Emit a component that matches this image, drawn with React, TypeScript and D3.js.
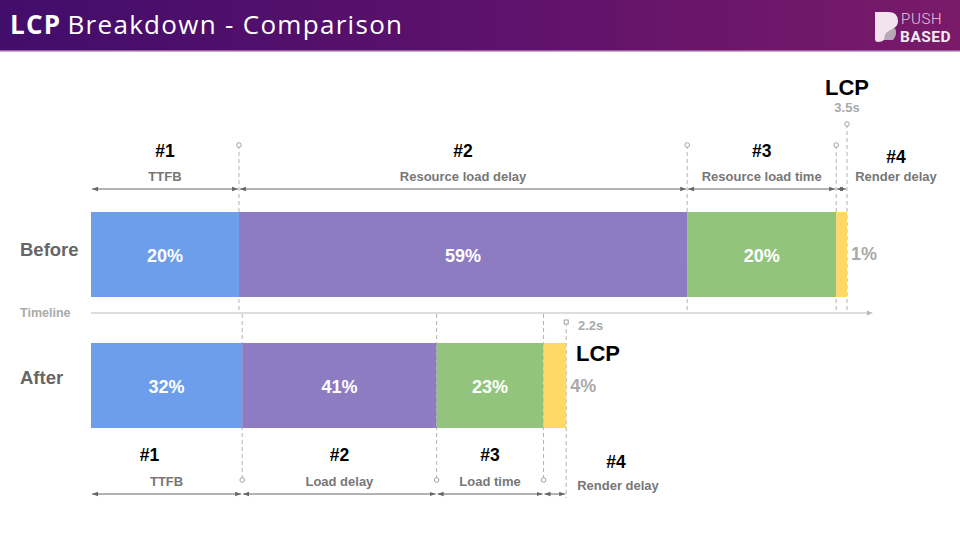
import * as d3 from 'd3'

// phase numbers and names
const phaseIds = ['#1', '#2', '#3', '#4']
const beforeNames = ['TTFB', 'Resource load delay', 'Resource load time', 'Render delay']
const afterNames = ['TTFB', 'Load delay', 'Load time', 'Render delay']

// durations in seconds
const beforeDurations = [0.685, 2.075, 0.69, 0.05]
const afterDurations = [0.7, 0.9, 0.495, 0.105]

// shares as printed on the bars
const beforeShares = ['20%', '59%', '20%', '1%']
const afterShares = ['32%', '41%', '23%', '4%']

const beforeTotal = '3.5s'
const afterTotal = '2.2s'
const timelineMax = 3.62

const colors = ['#6d9eeb', '#8e7cc3', '#93c47d', '#ffd966']

const W = 960
const H = 540
const FONT = '"Liberation Sans", Arial, sans-serif'

const x = d3.scaleLinear().domain([0, 3.5]).range([91, 847])

type Seg = { name: string; id: string; start: number; end: number; share: string; color: string }

const toSegs = (durs: number[], names: string[], shares: string[]): Seg[] => {
  const ends = d3.cumsum(durs)
  return durs.map((d, i) => ({
    name: names[i],
    id: phaseIds[i],
    start: ends[i] - d,
    end: ends[i],
    share: shares[i],
    color: colors[i],
  }))
}

const before = toSegs(beforeDurations, beforeNames, beforeShares)
const after = toSegs(afterDurations, afterNames, afterShares)

const Arrow = ({ x1, x2, y }: { x1: number; x2: number; y: number }) => (
  <line x1={x1 + 1} x2={x2 - 1} y1={y} y2={y} stroke="#666" strokeWidth={1}
    markerStart="url(#arrowL)" markerEnd="url(#arrowR)" />
)

const Marker = ({ cx, cy }: { cx: number; cy: number }) => (
  <circle cx={cx} cy={cy} r={2.3} fill="#fff" stroke="#999" strokeWidth={0.9} />
)

const mid = (s: Seg) => (x(s.start) + x(s.end)) / 2

export default function App() {
  const barH = 85
  const bY = 212
  const aY = 343
  const tlY = 313
  const nameSize = 13
  const idSize = 17.5
  const pctSize = 18

  return (
    <div style={{ position: 'fixed', left: 0, top: 0 }}>
      <svg width={W} height={H} style={{ display: 'block', fontFamily: FONT }}>
        <defs>
          <linearGradient id="hdr" x1="0" x2="1" y1="0" y2="0">
            <stop offset="0%" stopColor="#420d6b" />
            <stop offset="55%" stopColor="#5f126b" />
            <stop offset="100%" stopColor="#7a1a69" />
          </linearGradient>
          <marker id="arrowR" viewBox="0 0 6 6" refX="6" refY="3" markerWidth="6" markerHeight="6" orient="auto">
            <path d="M0,0.8 L6,3 L0,5.2 Z" fill="#666" />
          </marker>
          <marker id="arrowL" viewBox="0 0 6 6" refX="0" refY="3" markerWidth="6" markerHeight="6" orient="auto">
            <path d="M6,0.8 L0,3 L6,5.2 Z" fill="#666" />
          </marker>
        </defs>
        <rect width={W} height={H} fill="#fff" />

        {/* header */}
        <rect x={0} y={0} width={W} height={51} fill="url(#hdr)" />
        <rect x={0} y={50} width={W} height={1.5} fill="#9a5aa0" />
        <text x={10} y={34} fill="#fff" fontSize={26} letterSpacing={1.3} fontFamily='"Open Sans", "Noto Sans", sans-serif'>
          <tspan fontWeight={700}>LCP</tspan>
          <tspan dx={6} fontWeight={400}>Breakdown - Comparison</tspan>
        </text>
        {/* logo */}
        <g>
          <path d="M875,12 L888,12 Q898,12 898,21 Q898,26 894,28 L884,40 Q882,42 878,42 Q875,42 875,39 Z" fill="#f1e4ee" />
          <path d="M884,40 Q884,31 895,28 Q898,34 893,40 Z" fill="#b9a6b6" />
          <text x={901} y={24} fill="#e6c9df" fontSize={15} fontFamily='Roboto, sans-serif' fontWeight={300} letterSpacing={0.7}>PUSH</text>
          <text x={900} y={42} fill="#f4eaf2" fontSize={15.5} fontFamily='Roboto, sans-serif' fontWeight={700} letterSpacing={0.5}>BASED</text>
        </g>

        {/* row labels */}
        <text x={20} y={256} fontSize={18.5} fontWeight={700} fill="#666">Before</text>
        <text x={20} y={384} fontSize={18.5} fontWeight={700} fill="#666">After</text>
        <text x={20} y={317} fontSize={12.5} fontWeight={700} fill="#aaa">Timeline</text>

        {/* timeline */}
        <line x1={x(0)} x2={x(timelineMax) - 3} y1={tlY} y2={tlY} stroke="#bbb" strokeWidth={1.2} />
        <path d={`M${x(timelineMax)},${tlY} l-6,-2.5 v5 Z`} fill="#bbb" />

        {/* before: guide lines */}
        {before.map((s, i) => {
          const top = i === 3 ? 124 : 145
          return (
            <g key={'bg' + i}>
              <line x1={x(s.end)} x2={x(s.end)} y1={top} y2={310} stroke="#aaa" strokeDasharray="4,3" strokeWidth={0.9} />
              <Marker cx={x(s.end)} cy={top} />
            </g>
          )
        })}

        {/* before: bars */}
        {before.map((s, i) => (
          <rect key={'bb' + i} x={x(s.start)} y={bY} width={x(s.end) - x(s.start)} height={barH} fill={s.color} />
        ))}
        {before.map((s, i) => i < 3 ? (
          <text key={'bt' + i} x={mid(s)} y={bY + 50} textAnchor="middle" fill="#fff" fontSize={pctSize} fontWeight={700}>{s.share}</text>
        ) : (
          <text key={'bt' + i} x={x(s.end) + 4} y={bY + 48} fill="#aaa" fontSize={pctSize} fontWeight={700}>{s.share}</text>
        ))}

        {/* before: arrows and labels */}
        {before.map((s, i) => (
          <g key={'ba' + i}>
            <Arrow x1={x(s.start)} x2={x(s.end)} y={189} />
            <text x={i < 3 ? mid(s) : 896} y={i < 3 ? 157 : 163} textAnchor="middle" fontSize={idSize} fontWeight={700} fill="#000">{s.id}</text>
            <text x={i < 3 ? mid(s) : 896} y={181} textAnchor="middle" fontSize={nameSize} fontWeight={700} fill="#777">{s.name}</text>
          </g>
        ))}
        <text x={x(3.5)} y={95} textAnchor="middle" fontSize={22} fontWeight={700} fill="#000">LCP</text>
        <text x={x(3.5)} y={112} textAnchor="middle" fontSize={13} fontWeight={700} fill="#aaa">{beforeTotal}</text>

        {/* after: guide lines */}
        {after.map((s, i) => {
          if (i === 3) {
            return (
              <g key={'ag' + i}>
                <line x1={x(s.end)} x2={x(s.end)} y1={322} y2={498} stroke="#aaa" strokeDasharray="4,3" strokeWidth={0.9} />
                <rect x={x(s.end) - 2} y={320} width={4} height={4} fill="#fff" stroke="#999" strokeWidth={0.9} />
              </g>
            )
          }
          return (
            <g key={'ag' + i}>
              <line x1={x(s.end)} x2={x(s.end)} y1={tlY + 1} y2={480} stroke="#aaa" strokeDasharray="4,3" strokeWidth={0.9} />
              <Marker cx={x(s.end)} cy={480} />
            </g>
          )
        })}

        {/* after: bars */}
        {after.map((s, i) => (
          <rect key={'ab' + i} x={x(s.start)} y={aY} width={x(s.end) - x(s.start)} height={barH} fill={s.color} />
        ))}
        {after.map((s, i) => i < 3 ? (
          <text key={'at' + i} x={mid(s)} y={aY + 50} textAnchor="middle" fill="#fff" fontSize={pctSize} fontWeight={700}>{s.share}</text>
        ) : (
          <text key={'at' + i} x={x(s.end) + 4} y={aY + 49} fill="#aaa" fontSize={pctSize} fontWeight={700}>{s.share}</text>
        ))}

        {/* after: arrows and labels */}
        {after.map((s, i) => (
          <g key={'aa' + i}>
            <Arrow x1={x(s.start)} x2={x(s.end)} y={494} />
            <text x={i === 0 ? mid(s) - 17 : i < 3 ? mid(s) : 616} y={i < 3 ? 461 : 468} textAnchor="middle" fontSize={idSize} fontWeight={700} fill="#000">{s.id}</text>
            <text x={i < 3 ? mid(s) : 618} y={i < 3 ? 486 : 490} textAnchor="middle" fontSize={nameSize} fontWeight={700} fill="#777">{s.name}</text>
          </g>
        ))}
        <text x={578} y={330} fontSize={13} fontWeight={700} fill="#aaa">{afterTotal}</text>
        <text x={576} y={361} fontSize={22} fontWeight={700} fill="#000">LCP</text>
      </svg>
    </div>
  )
}
